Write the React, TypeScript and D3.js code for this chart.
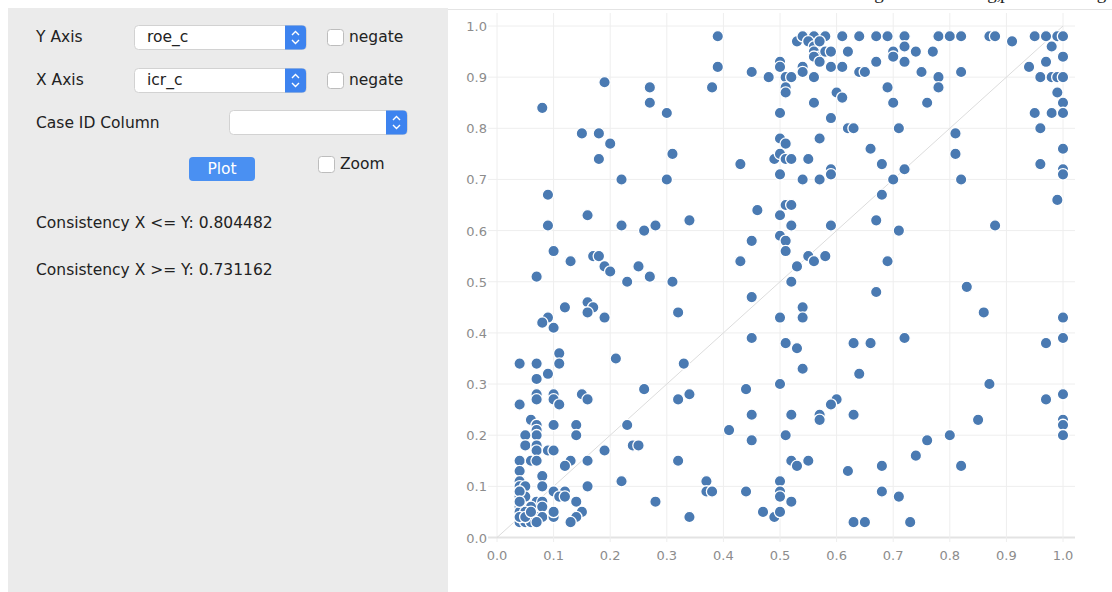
import React from 'react';
import * as d3 from 'd3';

// icr_c (x) / roe_c (y) pairs, grouped by plot region
const lowerLeftCases: [number, number][] = [
  [0.45, 0.47], [0.32, 0.44], [0.12, 0.45], [0.16, 0.46], [0.17, 0.45], [0.16, 0.44], [0.19, 0.43],
  [0.09, 0.43], [0.08, 0.42], [0.10, 0.41], [0.45, 0.39], [0.11, 0.36], [0.11, 0.34], [0.04, 0.34],
  [0.07, 0.34], [0.21, 0.35], [0.33, 0.34], [0.09, 0.32], [0.07, 0.31], [0.26, 0.29], [0.44, 0.29],
  [0.07, 0.28], [0.07, 0.27], [0.10, 0.28], [0.10, 0.27], [0.11, 0.26], [0.15, 0.28], [0.16, 0.27],
  [0.32, 0.27], [0.34, 0.28], [0.04, 0.26], [0.06, 0.23], [0.07, 0.22], [0.07, 0.21], [0.07, 0.20],
  [0.10, 0.22], [0.14, 0.22], [0.14, 0.20], [0.23, 0.22], [0.45, 0.24], [0.41, 0.21], [0.45, 0.19],
  [0.05, 0.20], [0.05, 0.18], [0.07, 0.18], [0.07, 0.17], [0.09, 0.17], [0.10, 0.17], [0.19, 0.17],
  [0.24, 0.18], [0.25, 0.18], [0.04, 0.15], [0.06, 0.15], [0.07, 0.15], [0.13, 0.15], [0.12, 0.14],
  [0.16, 0.15], [0.32, 0.15], [0.04, 0.13], [0.08, 0.12], [0.22, 0.11], [0.37, 0.11], [0.04, 0.11],
  [0.04, 0.10], [0.05, 0.10], [0.08, 0.10], [0.16, 0.10], [0.10, 0.09], [0.12, 0.09], [0.11, 0.08],
  [0.12, 0.08], [0.37, 0.09], [0.38, 0.09], [0.44, 0.09], [0.04, 0.08], [0.05, 0.08], [0.07, 0.07],
  [0.08, 0.07], [0.14, 0.07], [0.28, 0.07], [0.04, 0.06], [0.06, 0.06], [0.08, 0.06], [0.04, 0.05],
  [0.05, 0.05], [0.06, 0.04], [0.07, 0.04], [0.08, 0.04], [0.10, 0.04], [0.10, 0.05], [0.15, 0.05],
  [0.14, 0.04], [0.04, 0.03], [0.05, 0.03], [0.06, 0.03], [0.07, 0.03], [0.13, 0.03], [0.34, 0.04],
  [0.47, 0.05], [0.49, 0.04], [0.04, 0.09], [0.04, 0.07], [0.04, 0.04], [0.05, 0.04], [0.06, 0.05],
];

const lowerRightCases: [number, number][] = [
  [0.67, 0.48], [0.83, 0.49], [0.54, 0.45], [0.54, 0.43], [0.86, 0.44], [1.00, 0.43], [0.53, 0.37],
  [0.63, 0.38], [0.66, 0.38], [0.72, 0.39], [0.97, 0.38], [1.00, 0.39], [0.54, 0.33], [0.64, 0.32],
  [0.87, 0.30], [1.00, 0.28], [0.97, 0.27], [0.60, 0.27], [0.59, 0.26], [0.57, 0.24], [0.57, 0.23],
  [0.52, 0.24], [0.63, 0.24], [0.85, 0.23], [1.00, 0.23], [1.00, 0.22], [1.00, 0.20], [0.76, 0.19],
  [0.80, 0.20], [0.74, 0.16], [0.52, 0.15], [0.53, 0.14], [0.55, 0.15], [0.62, 0.13], [0.68, 0.14],
  [0.82, 0.14], [0.68, 0.09], [0.71, 0.08], [0.63, 0.03], [0.65, 0.03], [0.73, 0.03], [0.52, 0.07],
  [0.50, 0.43], [0.51, 0.38], [0.50, 0.30], [0.51, 0.20], [0.50, 0.11], [0.50, 0.09], [0.50, 0.08],
  [0.50, 0.05],
];

const upperLeftCases: [number, number][] = [
  [0.39, 0.98], [0.39, 0.92], [0.45, 0.91], [0.48, 0.90], [0.19, 0.89], [0.27, 0.88], [0.38, 0.88],
  [0.08, 0.84], [0.27, 0.85], [0.30, 0.83], [0.15, 0.79], [0.18, 0.79], [0.20, 0.77], [0.18, 0.74],
  [0.31, 0.75], [0.43, 0.73], [0.49, 0.74], [0.22, 0.70], [0.30, 0.70], [0.09, 0.67], [0.16, 0.63],
  [0.09, 0.61], [0.22, 0.61], [0.26, 0.60], [0.28, 0.61], [0.34, 0.62], [0.46, 0.64], [0.45, 0.58],
  [0.43, 0.54], [0.10, 0.56], [0.13, 0.54], [0.17, 0.55], [0.18, 0.55], [0.19, 0.53], [0.20, 0.52],
  [0.25, 0.53], [0.07, 0.51], [0.23, 0.50], [0.27, 0.51], [0.31, 0.50],
  [0.50, 0.93], [0.50, 0.92], [0.51, 0.90], [0.51, 0.88], [0.51, 0.87], [0.50, 0.83], [0.50, 0.78],
  [0.51, 0.77], [0.50, 0.75], [0.51, 0.74], [0.50, 0.71], [0.50, 0.63], [0.51, 0.65], [0.50, 0.59],
  [0.51, 0.58], [0.51, 0.56], [0.52, 0.50],
];

const upperRightCases: [number, number][] = [
  [0.53, 0.97], [0.54, 0.98], [0.56, 0.98], [0.58, 0.98], [0.61, 0.98], [0.64, 0.98], [0.67, 0.98],
  [0.69, 0.98], [0.72, 0.98], [0.78, 0.98], [0.80, 0.98], [0.82, 0.98], [0.87, 0.98], [0.88, 0.98],
  [0.91, 0.97], [0.95, 0.98], [0.97, 0.98], [0.99, 0.98], [1.00, 0.98],
  [0.55, 0.97], [0.56, 0.96], [0.57, 0.97], [0.56, 0.95], [0.57, 0.94], [0.56, 0.94], [0.57, 0.93],
  [0.58, 0.95], [0.59, 0.95], [0.62, 0.95], [0.70, 0.95], [0.70, 0.94], [0.72, 0.96], [0.74, 0.95],
  [0.77, 0.95], [0.98, 0.96], [1.00, 0.94],
  [0.54, 0.92], [0.54, 0.91], [0.59, 0.92], [0.61, 0.92], [0.67, 0.93], [0.72, 0.93], [0.64, 0.91],
  [0.65, 0.91], [0.75, 0.91], [0.78, 0.90], [0.78, 0.88], [0.82, 0.91], [0.94, 0.92], [0.97, 0.93],
  [0.52, 0.90], [0.56, 0.90], [0.96, 0.90], [0.98, 0.90], [0.99, 0.90], [1.00, 0.90],
  [0.60, 0.87], [0.61, 0.86], [0.69, 0.88], [0.56, 0.85], [0.70, 0.85], [0.76, 0.85], [0.99, 0.87],
  [1.00, 0.85], [0.95, 0.83], [0.98, 0.83], [1.00, 0.83], [0.59, 0.82], [0.62, 0.80], [0.63, 0.80],
  [0.71, 0.80], [0.96, 0.80], [0.81, 0.79], [0.57, 0.78], [0.66, 0.76], [1.00, 0.76], [0.81, 0.75],
  [0.52, 0.74], [0.55, 0.74], [0.68, 0.73], [0.96, 0.73], [0.59, 0.72], [0.59, 0.71], [0.72, 0.72],
  [1.00, 0.72], [1.00, 0.71], [0.54, 0.70], [0.57, 0.70], [0.70, 0.70], [0.82, 0.70], [0.68, 0.67],
  [0.99, 0.66], [0.52, 0.65], [0.52, 0.61], [0.59, 0.61], [0.67, 0.62], [0.71, 0.60], [0.88, 0.61],
  [0.55, 0.55], [0.56, 0.54], [0.58, 0.55], [0.53, 0.53], [0.69, 0.54],
];

const tickValues = [0, 0.1, 0.2, 0.3, 0.4, 0.5, 0.6, 0.7, 0.8, 0.9, 1.0];

const yAxisColumn = 'roe_c';
const xAxisColumn = 'icr_c';
const consistencyLeq = 0.804482;
const consistencyGeq = 0.731162;

const UI_FONT = '"DejaVu Sans", Verdana, sans-serif';
const UI_SIZE = 15.5;

function ComboBox({ x, y, w, label }: { x: number; y: number; w: number; label: string }) {
  const h = 24;
  const sx = x + w - 21;
  return (
    <g>
      <rect x={x + 0.5} y={y + 0.5} width={w} height={h} rx={4} fill="#fff" stroke="#d2d2d2" />
      <path d={`M${sx},${y + 0.5} h17 a4,4 0 0 1 4,4 v${h - 8} a4,4 0 0 1 -4,4 h-17 z`} fill="#3d83ef" />
      <path d={`M${sx + 7},${y + 10} l3.5,-3.5 l3.5,3.5`} fill="none" stroke="#fff" strokeWidth={1.4} />
      <path d={`M${sx + 7},${y + 15} l3.5,3.5 l3.5,-3.5`} fill="none" stroke="#fff" strokeWidth={1.4} />
      {label && (
        <text x={x + 13} y={y + 17} fontSize={UI_SIZE} fill="#222" fontFamily={UI_FONT}>{label}</text>
      )}
    </g>
  );
}

function CheckBox({ x, y, label }: { x: number; y: number; label: string }) {
  return (
    <g>
      <rect x={x + 0.5} y={y + 0.5} width={16} height={16} rx={3} fill="#fff" stroke="#bdbdbd" />
      <text x={x + 22} y={y + 13} fontSize={UI_SIZE} fill="#222" fontFamily={UI_FONT}>{label}</text>
    </g>
  );
}

export default function App() {
  const x = d3.scaleLinear().domain([0, 1]).range([497, 1063]);
  const y = d3.scaleLinear().domain([0, 1]).range([537.5, 26]);
  const fmt = d3.format('.1f');
  const allCases = [...lowerLeftCases, ...lowerRightCases, ...upperLeftCases, ...upperRightCases];

  return (
    <svg
      width={1112}
      height={592}
      style={{ position: 'absolute', left: 0, top: 0, display: 'block', background: '#fff' }}
    >
      {/* cut-off document text above the window, only its descenders show */}
      <text y={-1} fontSize={19} fontFamily='"Liberation Serif", serif' fill="#222">
        <tspan x={850}>ning</tspan>
        <tspan x={905}>in the rating,</tspan>
        <tspan x={1000}>p-value</tspan>
        <tspan x={1082}>big</tspan>
      </text>

      {/* control panel */}
      <rect x={8} y={8} width={440} height={584} fill="#ebebeb" />
      <line x1={448} x2={1112} y1={9.5} y2={9.5} stroke="#e4e4e4" />

      <text x={36} y={42} fontSize={UI_SIZE} fill="#222" fontFamily={UI_FONT}>Y Axis</text>
      <ComboBox x={134} y={25} w={172} label={yAxisColumn} />
      <CheckBox x={327} y={29} label="negate" />

      <text x={36} y={85} fontSize={UI_SIZE} fill="#222" fontFamily={UI_FONT}>X Axis</text>
      <ComboBox x={134} y={68} w={172} label={xAxisColumn} />
      <CheckBox x={327} y={72} label="negate" />

      <text x={36} y={128} fontSize={UI_SIZE} fill="#222" fontFamily={UI_FONT}>Case ID Column</text>
      <ComboBox x={229} y={110} w={178} label="" />

      <rect x={189} y={157} width={66} height={24} rx={4} fill="#4a90f2" />
      <text x={222} y={174} fontSize={UI_SIZE} fill="#fff" textAnchor="middle" fontFamily={UI_FONT}>Plot</text>
      <CheckBox x={318} y={156} label="Zoom" />

      <text x={36} y={228} fontSize={UI_SIZE} fill="#222" fontFamily={UI_FONT}>
        {`Consistency X <= Y: ${consistencyLeq}`}
      </text>
      <text x={36} y={275} fontSize={UI_SIZE} fill="#222" fontFamily={UI_FONT}>
        {`Consistency X >= Y: ${consistencyGeq}`}
      </text>

      {/* grid */}
      {tickValues.map((t) => (
        <g key={`g${t}`}>
          <line x1={x(t)} x2={x(t)} y1={13} y2={542} stroke="#eeeeee" />
          <line x1={488} x2={1075} y1={y(t)} y2={y(t)} stroke={t === 0 ? '#e3e3e3' : '#eeeeee'} strokeWidth={t === 0 ? 2 : 1} />
        </g>
      ))}
      <line x1={x(0)} y1={y(0)} x2={x(1)} y2={y(1)} stroke="#dcdcdc" />

      {/* tick labels */}
      {tickValues.map((t) => (
        <text key={`yl${t}`} x={487} y={y(t) + 5} fontSize={13} fill="#8c8c8c" textAnchor="end" fontFamily={UI_FONT}>
          {fmt(t)}
        </text>
      ))}
      {tickValues.map((t) => (
        <text key={`xl${t}`} x={x(t)} y={560} fontSize={13} fill="#8c8c8c" textAnchor="middle" fontFamily={UI_FONT}>
          {fmt(t)}
        </text>
      ))}

      {/* cases */}
      {allCases.map(([cx, cy], i) => (
        <circle key={i} cx={x(cx)} cy={y(cy)} r={5.7} fill="#4a7ab2" stroke="#fff" strokeWidth={1.3} />
      ))}
    </svg>
  );
}
